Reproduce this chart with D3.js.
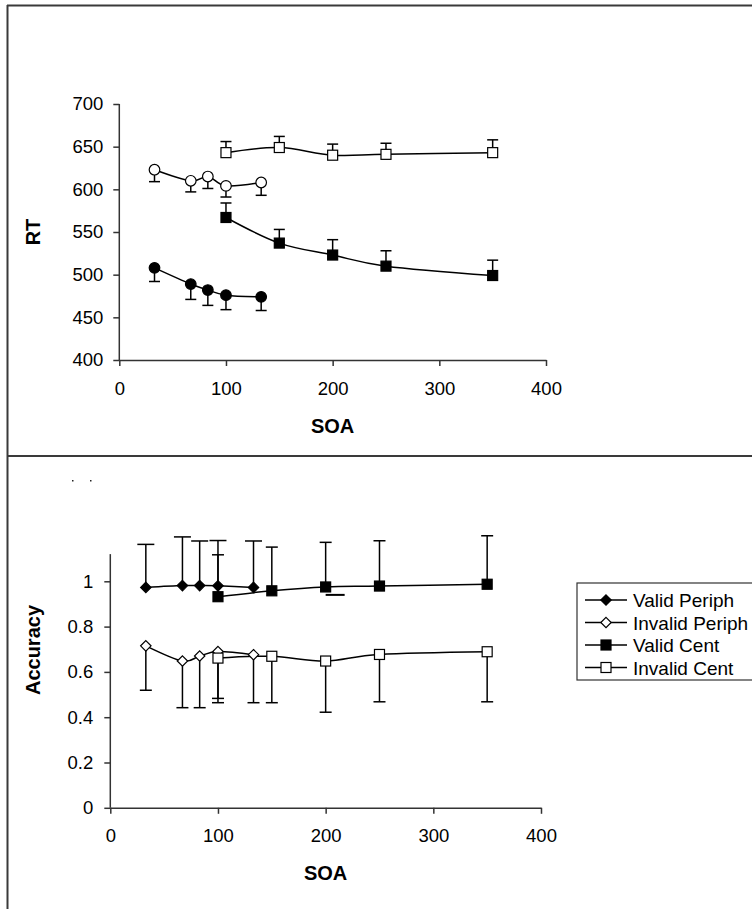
<!DOCTYPE html>
<html>
<head>
<meta charset="utf-8">
<script src="https://cdn.jsdelivr.net/npm/d3@7"></script>
<style>
  body { margin: 0; background: #fff; }
  svg { display: block; font-family: "Liberation Sans", Arial, sans-serif; }
</style>
</head>
<body>
<svg id="chart" width="752" height="909"></svg>
<script>
// SOA values (ms)
const soaPeriph = [33, 67, 83, 100, 133];
const soaCent = [100, 150, 200, 250, 350];

// panel (a): RT
const rtValidPeriph = [508, 489, 482, 476, 474];
const rtValidPeriphErr = [16, 18, 18, 17, 16];
const rtInvalidPeriph = [623, 610, 615, 604, 608];
const rtInvalidPeriphErr = [14, 13, 14, 13, 15];
const rtValidCent = [567, 537, 523, 510, 499];
const rtValidCentErr = [17, 16, 18, 18, 18];
const rtInvalidCent = [643, 649, 640, 641, 643];
const rtInvalidCentErr = [13, 13, 13, 13, 15];

// panel (b): accuracy
const accValidPeriph = [0.973, 0.981, 0.981, 0.980, 0.973];
const accValidPeriphErr = [0.19, 0.215, 0.197, 0.2, 0.205];
const accInvalidPeriph = [0.715, 0.648, 0.670, 0.690, 0.676];
const accInvalidPeriphErr = [0.196, 0.206, 0.228, 0.226, 0.212];
const accValidCent = [0.932, 0.958, 0.975, 0.979, 0.987];
const accValidCentErr = [0.185, 0.193, 0.197, 0.2, 0.214];
const accValidCentLowErr = [0, 0, 0.035, 0, 0];
const accInvalidCent = [0.661, 0.669, 0.648, 0.677, 0.689];
const accInvalidCentErr = [0.178, 0.205, 0.226, 0.209, 0.221];

// axis ticks
const xTicks = [0, 100, 200, 300, 400];
const rtTicks = [400, 450, 500, 550, 600, 650, 700];
const accTicks = [0, 0.2, 0.4, 0.6, 0.8, 1];

const legendNames = ['Valid Periph', 'Invalid Periph', 'Valid Cent', 'Invalid Cent'];

const svg = d3.select('#chart');
const ink = '#000';
const frame = '#3a3a3a';

// frame lines
svg.append('line').attr('x1', 7).attr('x2', 752).attr('y1', 5.5).attr('y2', 5.5)
  .attr('stroke', frame).attr('stroke-width', 2);
svg.append('line').attr('x1', 7.5).attr('x2', 7.5).attr('y1', 5).attr('y2', 909)
  .attr('stroke', frame).attr('stroke-width', 2);
svg.append('line').attr('x1', 7).attr('x2', 752).attr('y1', 456).attr('y2', 456)
  .attr('stroke', frame).attr('stroke-width', 2);
// clipped remains of the panel letter
[72, 90].forEach(x => svg.append('rect').attr('x', x).attr('y', 480).attr('width', 1.5).attr('height', 1.5).attr('fill', '#222'));

const lineGen = (x, y) => d3.line().x(d => x(d[0])).y(d => y(d[1])).curve(d3.curveCatmullRom.alpha(0));

function marker(g, type, cx, cy) {
  if (type === 'circle' || type === 'ocircle') {
    g.append('circle').attr('cx', cx).attr('cy', cy).attr('r', 5.3)
      .attr('fill', type === 'circle' ? ink : '#fff').attr('stroke', ink).attr('stroke-width', 1.2);
  } else if (type === 'square' || type === 'osquare') {
    g.append('rect').attr('x', cx - 5).attr('y', cy - 5).attr('width', 10).attr('height', 10)
      .attr('fill', type === 'square' ? ink : '#fff').attr('stroke', ink).attr('stroke-width', 1.2);
  } else {
    const r = 5.2;
    g.append('path').attr('d', `M${cx},${cy - r}L${cx + r},${cy}L${cx},${cy + r}L${cx - r},${cy}Z`)
      .attr('fill', type === 'diamond' ? ink : '#fff').attr('stroke', ink).attr('stroke-width', 1.2);
  }
}

function drawPanel(cfg) {
  const { x, y } = cfg;
  const g = svg.append('g');

  // axes
  const ax = g.append('g').attr('transform', `translate(0,${y.range()[0]})`)
    .call(d3.axisBottom(x).tickValues(xTicks).tickSize(6).tickSizeOuter(0).tickPadding(cfg.xPad));
  const ay = g.append('g').attr('transform', `translate(${x.range()[0]},0)`)
    .call(d3.axisLeft(y).tickValues(cfg.yTicks).tickSize(6).tickSizeOuter(0).tickPadding(cfg.yPad)
      .tickFormat(cfg.yFormat));
  ay.select('.domain').attr('d', `M0,${y.range()[0]}V${cfg.yTop}`);
  [ax, ay].forEach(a => {
    a.select('.domain').attr('stroke', '#333').attr('stroke-width', 1.5);
    a.selectAll('.tick line').attr('stroke', '#333').attr('stroke-width', 1.5);
    a.selectAll('.tick text').attr('font-size', 18.5).attr('fill', ink)
      .attr('font-family', '"Liberation Sans", Arial, sans-serif');
  });

  g.append('text').attr('x', (x.range()[0] + x.range()[1]) / 2).attr('y', cfg.xTitleY)
    .attr('text-anchor', 'middle').attr('font-size', 20).attr('font-weight', 'bold').text('SOA');
  g.append('text').attr('transform', `translate(40,${cfg.yTitleY}) rotate(-90)`)
    .attr('text-anchor', 'middle').attr('font-size', 20).attr('font-weight', 'bold').text(cfg.yTitle);

  // lines
  cfg.series.forEach(s => {
    const pts = s.xs.map((v, i) => [v, s.ys[i]]);
    g.append('path').attr('d', lineGen(x, y)(pts)).attr('fill', 'none')
      .attr('stroke', ink).attr('stroke-width', 1.5);
  });
  // error bars
  cfg.series.forEach(s => {
    s.xs.forEach((v, i) => {
      const cx = x(v), cy = y(s.ys[i]);
      const ey = y(s.ys[i] + s.dir * s.err[i]);
      const w = s.cap / 2;
      g.append('line').attr('x1', cx).attr('x2', cx).attr('y1', cy).attr('y2', ey)
        .attr('stroke', ink).attr('stroke-width', 1.5);
      g.append('line').attr('x1', cx - w).attr('x2', cx + w).attr('y1', ey).attr('y2', ey)
        .attr('stroke', ink).attr('stroke-width', 1.5);
      if (s.low && s.low[i] > 0) {
        const ly = y(s.ys[i] - s.low[i]);
        g.append('line').attr('x1', cx).attr('x2', cx + 19).attr('y1', ly).attr('y2', ly)
          .attr('stroke', ink).attr('stroke-width', 2);
      }
    });
  });
  // markers
  cfg.series.forEach(s => {
    s.xs.forEach((v, i) => marker(g, s.marker, x(v), y(s.ys[i])));
  });
}

// panel (a)
const xa = d3.scaleLinear().domain([0, 400]).range([119.3, 546]);
const ya = d3.scaleLinear().domain([400, 700]).range([360, 104]);
drawPanel({
  x: xa, y: ya, yTicks: rtTicks, yFormat: d3.format('d'), yTop: 104,
  xPad: 15.5, yPad: 10, xTitleY: 432.5, yTitleY: 232, yTitle: 'RT',
  series: [
    { xs: soaPeriph, ys: rtValidPeriph, err: rtValidPeriphErr, dir: -1, marker: 'circle', cap: 11 },
    { xs: soaPeriph, ys: rtInvalidPeriph, err: rtInvalidPeriphErr, dir: -1, marker: 'ocircle', cap: 11 },
    { xs: soaCent, ys: rtValidCent, err: rtValidCentErr, dir: 1, marker: 'square', cap: 11 },
    { xs: soaCent, ys: rtInvalidCent, err: rtInvalidCentErr, dir: 1, marker: 'osquare', cap: 11 }
  ]
});

// panel (b)
const xb = d3.scaleLinear().domain([0, 400]).range([110.3, 541]);
const yb = d3.scaleLinear().domain([0, 1]).range([807.8, 581.3]);
drawPanel({
  x: xb, y: yb, yTicks: accTicks, yFormat: d => d === 0 || d === 1 ? String(d) : d3.format('.1f')(d),
  yTop: yb(1.12), xPad: 15.5, yPad: 11, xTitleY: 880, yTitleY: 650, yTitle: 'Accuracy',
  series: [
    { xs: soaPeriph, ys: accValidPeriph, err: accValidPeriphErr, dir: 1, marker: 'diamond', cap: 17 },
    { xs: soaPeriph, ys: accInvalidPeriph, err: accInvalidPeriphErr, dir: -1, marker: 'odiamond', cap: 12 },
    { xs: soaCent, ys: accValidCent, err: accValidCentErr, dir: 1, marker: 'square', cap: 12, low: accValidCentLowErr },
    { xs: soaCent, ys: accInvalidCent, err: accInvalidCentErr, dir: -1, marker: 'osquare', cap: 12 }
  ]
});

// legend
const lg = svg.append('g').attr('transform', 'translate(577,583)');
lg.append('rect').attr('x', 0).attr('y', 0).attr('width', 200).attr('height', 97)
  .attr('fill', '#fff').attr('stroke', '#333').attr('stroke-width', 1.2);
const legendMarkers = ['diamond', 'odiamond', 'square', 'osquare'];
legendNames.forEach((name, i) => {
  const cy = 17 + i * 22.5;
  lg.append('line').attr('x1', 8).attr('x2', 50).attr('y1', cy).attr('y2', cy)
    .attr('stroke', ink).attr('stroke-width', 1.5);
  marker(lg, legendMarkers[i], 29, cy);
  lg.append('text').attr('x', 56).attr('y', cy + 7).attr('font-size', 19).text(name);
});
</script>
</body>
</html>
